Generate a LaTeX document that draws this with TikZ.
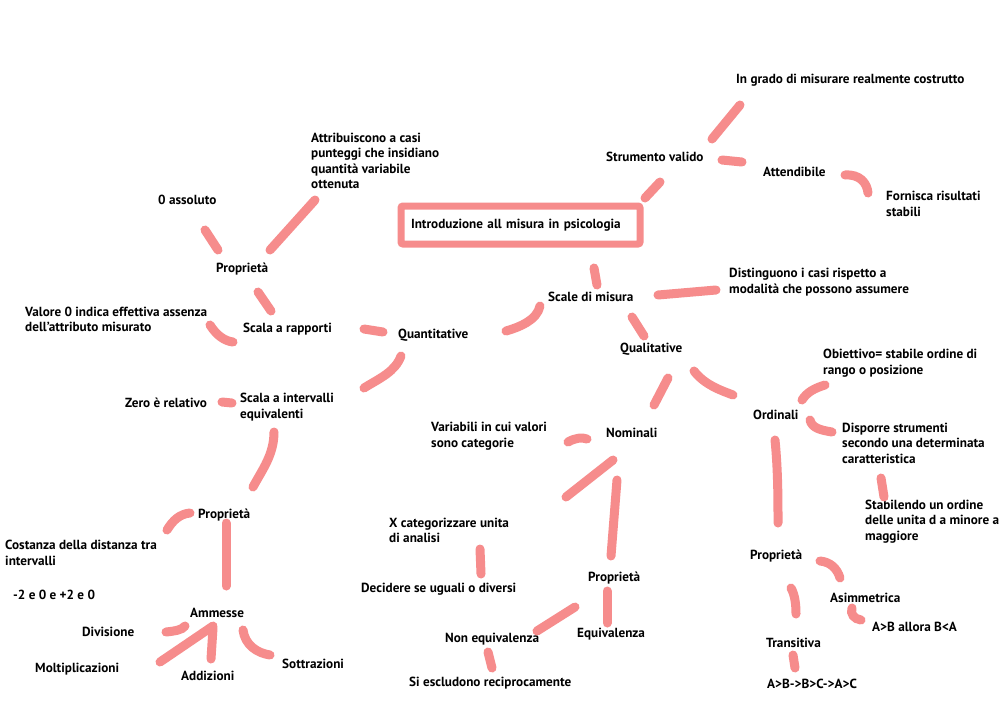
\documentclass[tikz,border=0pt]{standalone}
\usepackage{fontspec}
\setmainfont{PT Sans}[BoldFont={PT Sans Bold}]
\definecolor{salmon}{RGB}{246,140,140}
\tikzset{
  lbl/.style={anchor=west, inner sep=0pt, font=\bfseries\fontsize{13.2}{15.5}\selectfont, align=left, text=black},
  stroke/.style={draw=salmon, line width=9pt, line cap=round},
  mainbox/.style={draw=salmon, line width=7pt, rounded corners=2pt, minimum width=239pt, minimum height=38pt, text width=219pt, inner xsep=10pt, align=left, font=\bfseries\fontsize{13.2}{15.5}\selectfont, text=black}
}
\begin{document}
\begin{tikzpicture}[x=1pt,y=-1pt]
\useasboundingbox (0,0) rectangle (1000,707);
\fill[white] (0,0) rectangle (1000,707);
% nodes
\node[mainbox] (intro) at (520.5,225) {Introduzione all misura in psicologia};
\node[lbl] (ingrado) at (736,80) {In grado di misurare realmente costrutto};
\node[lbl] (sv) at (606,157) {Strumento valido};
\node[lbl] (att) at (763,172) {Attendibile};
\node[lbl] (forn) at (886,204) {Fornisca risultati\\stabili};
\node[lbl] (attr) at (311,161) {Attribuiscono a casi\\punteggi che insidiano\\quantità variabile\\ottenuta};
\node[lbl] (zeroass) at (158,200) {0 assoluto};
\node[lbl] (prop1) at (216,269) {Proprietà};
\node[lbl] (valore) at (25,319.5) {Valore 0 indica effettiva assenza\\dell’attributo misurato};
\node[lbl] (rapp) at (243,329) {Scala a rapporti};
\node[lbl] (quant) at (398,335) {Quantitative};
\node[lbl] (scale) at (548,297) {Scale di misura};
\node[lbl] (dist) at (729,282) {Distinguono i casi rispetto a\\modalità che possono assumere};
\node[lbl] (qual) at (620,349) {Qualitative};
\node[lbl] (zerorel) at (125,403) {Zero è relativo};
\node[lbl] (interv) at (240,407) {Scala a intervalli\\equivalenti};
\node[lbl] (obj) at (823,363) {Obiettivo= stabile ordine di\\rango o posizione};
\node[lbl] (ord) at (753,415) {Ordinali};
\node[lbl] (varb) at (431,436) {Variabili in cui valori\\sono categorie};
\node[lbl] (nom) at (606,433) {Nominali};
\node[lbl] (disp) at (842,443) {Disporre strumenti\\secondo una determinata\\caratteristica};
\node[lbl] (stab) at (865,521.5) {Stabilendo un ordine\\delle unita d a minore a\\maggiore};
\node[lbl] (prop2) at (198,515) {Proprietà};
\node[lbl] (cost) at (5,553) {Costanza della distanza tra\\intervalli};
\node[lbl] (xcat) at (389,530.5) {X categorizzare unita\\di analisi};
\node[lbl] (prop4) at (750,556) {Proprietà};
\node[lbl] (prop3) at (588,578) {Proprietà};
\node[lbl] (decid) at (361,589) {Decidere se uguali o diversi};
\node[lbl] (esempio) at (13,595) {-2 e 0 e +2 e 0};
\node[lbl] (asimm) at (830,598) {Asimmetrica};
\node[lbl] (amm) at (190,613) {Ammesse};
\node[lbl] (div) at (82,632) {Divisione};
\node[lbl] (aba) at (872,627) {A>B allora B<A};
\node[lbl] (equiv) at (577,634) {Equivalenza};
\node[lbl] (nonequiv) at (445,639) {Non equivalenza};
\node[lbl] (trans) at (766,643) {Transitiva};
\node[lbl] (sott) at (282,664) {Sottrazioni};
\node[lbl] (molt) at (35,669) {Moltiplicazioni};
\node[lbl] (add) at (181,676) {Addizioni};
\node[lbl] (escl) at (409,683) {Si escludono reciprocamente};
\node[lbl] (abc) at (767,684) {A>B->B>C->A>C};
% strokes
\draw[stroke] (712,139) -- (740,105);
\draw[stroke] (722,160) -- (742,162);
\draw[stroke] (845,175) .. controls (860,174) and (867,183) .. (868,193);
\draw[stroke] (645,198) -- (660,182);
\draw[stroke] (594,268) -- (597,285);
\draw[stroke] (658,295) -- (716,290);
\draw[stroke] (540,306) .. controls (537,320) and (520,327) .. (506,331);
\draw[stroke] (632,317) -- (644,336);
\draw[stroke] (364,329) -- (383,332);
\draw[stroke] (401,356) .. controls (395,372) and (380,378) .. (364,388);
\draw[stroke] (258,292) -- (271,311);
\draw[stroke] (205,230) -- (218,250);
\draw[stroke] (270,250) -- (315,200);
\draw[stroke] (210,325) .. controls (217,336) and (225,341) .. (233,342);
\draw[stroke] (222,402) -- (232,403);
\draw[stroke] (274,432) .. controls (274,455) and (262,470) .. (253,487);
\draw[stroke] (190,513) .. controls (180,514) and (173,520) .. (167,530);
\draw[stroke] (226,523) -- (226,586);
\draw[stroke] (166,632) .. controls (175,631) and (182,630) .. (185,626);
\draw[stroke] (160,662) -- (213,626);
\draw[stroke] (213,628) -- (211,659);
\draw[stroke] (243,630) .. controls (245,645) and (257,653) .. (270,655);
\draw[stroke] (668,378) -- (654,405);
\draw[stroke] (694,371) .. controls (705,385) and (720,390) .. (733,395);
\draw[stroke] (802,400) .. controls (807,392) and (815,388) .. (825,385);
\draw[stroke] (810,420) .. controls (812,428) and (820,430) .. (832,432);
\draw[stroke] (775,440) .. controls (778,470) and (778,500) .. (778,523);
\draw[stroke] (881,478) -- (884,497);
\draw[stroke] (820,561) .. controls (830,562) and (837,568) .. (840,578);
\draw[stroke] (791,588) .. controls (795,595) and (796,605) .. (796,614);
\draw[stroke] (852,608) .. controls (850,614) and (854,619) .. (861,620);
\draw[stroke] (793,655) -- (795,668);
\draw[stroke] (568,442) .. controls (575,438) and (582,437) .. (587,439);
\draw[stroke] (613,460) -- (566,497);
\draw[stroke] (617,480) -- (611,556);
\draw[stroke] (480,549) -- (481,574);
\draw[stroke] (537,631) -- (575,607);
\draw[stroke] (607,591) -- (607,623);
\draw[stroke] (488,652) -- (492,668);
\end{tikzpicture}
\end{document}
